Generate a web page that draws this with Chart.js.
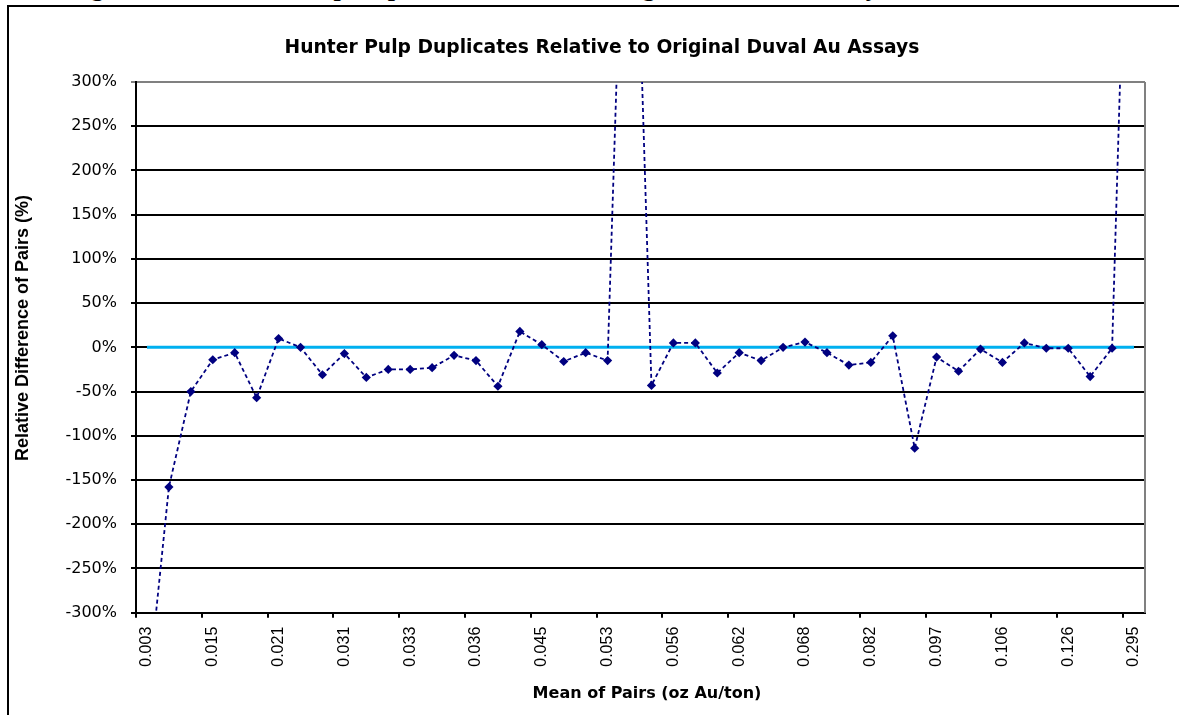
<!DOCTYPE html>
<html>
<head>
<meta charset="utf-8">
<script src="https://cdn.jsdelivr.net/npm/chart.js@4.4.1/dist/chart.umd.min.js"></script>
<style>
  html, body { margin: 0; padding: 0; background: #fff; overflow: hidden; }
  #page { position: relative; width: 1179px; height: 715px; overflow: hidden; }
  #caption {
    position: absolute; left: 68px; top: -25px; white-space: nowrap;
    font: bold 26px "Liberation Serif", "Times New Roman", serif; line-height: 26px; color: #000;
  }
  #frame { position: absolute; left: 7px; top: 5px; width: 1300px; height: 1000px; border: 2px solid #000; background: #fff; }
  #chart { position: absolute; left: 0; top: 0; }
</style>
</head>
<body>
<div id="page">
  <div id="caption">Figure 11-6: Hunter Pulp Duplicates Relative to Original Duval Au Assays</div>
  <div id="frame"></div>
  <canvas id="chart" width="1179" height="715"></canvas>
</div>
<script>
const chartTitle = 'Hunter Pulp Duplicates Relative to Original Duval Au Assays';
const xTitle = 'Mean of Pairs (oz Au/ton)';
const yTitle = 'Relative Difference of Pairs (%)';

// mean of pairs (oz Au/ton); only every third one is printed on the axis
const categories = [
    '0.003', '0.007', '0.012', '0.015', '0.017', '0.019', '0.021', '0.025', '0.028', '0.031',
    '0.032', '0.032', '0.033', '0.034', '0.035', '0.036', '0.040', '0.043', '0.045', '0.048',
    '0.051', '0.053', '0.054', '0.055', '0.056', '0.058', '0.060', '0.062', '0.064', '0.066',
    '0.068', '0.072', '0.077', '0.082', '0.087', '0.092', '0.097', '0.100', '0.103', '0.106',
    '0.112', '0.119', '0.126', '0.150', '0.200', '0.295'
];

// relative difference (%)
const relDiff = [
    -400, -158, -50, -14, -6, -57, 10, 0, -31, -7,
    -34, -25, -25, -23, -9, -15, -44, 18, 3, -16,
    -6, -15, 760, -43, 5, 5, -29, -6, -15, 0,
    6, -6, -20, -17, 13, -114, -11, -27, -2, -17,
    5, -1, -1, -33, -1, 830
];

const zeroLine = categories.map(() => 0);

const yTicks = { min: -300, max: 300, step: 50 };
const labelEvery = 3;

// titles and the grey right edge of the plot area, drawn like the Excel chart
const excelDecor = {
    id: 'excelDecor',
    beforeDatasetsDraw(chart) {
        const a = chart.chartArea;
        const ctx = chart.ctx;
        ctx.save();
        ctx.strokeStyle = '#808080';
        ctx.lineWidth = 2;
        ctx.beginPath();
        ctx.moveTo(a.right, a.top);
        ctx.lineTo(a.right, a.bottom);
        ctx.stroke();
        ctx.restore();
    },
    afterDraw(chart) {
        const ctx = chart.ctx;
        ctx.save();
        ctx.fillStyle = '#000';
        ctx.textAlign = 'center';
        ctx.textBaseline = 'middle';
        ctx.font = 'bold 18.7px "DejaVu Sans"';
        ctx.fillText(chartTitle, 602, 48);
        ctx.font = 'bold 16px "DejaVu Sans"';
        ctx.fillText(xTitle, 647, 694);
        ctx.translate(23, 328);
        ctx.rotate(-Math.PI / 2);
        ctx.font = 'bold 18px "Liberation Sans"';
        ctx.fillText(yTitle, 0, 0);
        ctx.restore();
    }
};

Chart.defaults.font.family = '"DejaVu Sans"';
Chart.defaults.color = '#000';

new Chart(document.getElementById('chart'), {
    type: 'line',
    data: {
        labels: categories,
        datasets: [{
            label: 'Relative difference',
            data: relDiff,
            borderColor: '#000080',
            backgroundColor: '#000080',
            borderWidth: 1.8,
            borderDash: [4, 3],
            pointStyle: 'rectRot',
            pointRadius: 4.6,
            pointBorderWidth: 0,
            tension: 0
        }, {
            label: 'Zero',
            data: zeroLine,
            borderColor: '#00B0F0',
            borderWidth: 3,
            pointRadius: 0,
            tension: 0
        }]
    },
    options: {
        responsive: false,
        devicePixelRatio: 1,
        animation: false,
        layout: { padding: { top: 82, right: 34, left: 0, bottom: 0 } },
        plugins: {
            legend: { display: false },
            tooltip: { enabled: false },
            title: { display: false }
        },
        scales: {
            x: {
                type: 'category',
                offset: true,
                afterFit: s => { s.height = 102.3; },
                grid: {
                    offset: true,
                    drawOnChartArea: false,
                    drawTicks: true,
                    tickLength: 5,
                    lineWidth: 2,
                    color: c => (c.index % labelEvery === 0 ? '#000' : 'rgba(0,0,0,0)')
                },
                border: { display: true, color: '#000', width: 2 },
                ticks: {
                    autoSkip: false,
                    maxRotation: 90,
                    minRotation: 90,
                    padding: 9,
                    font: { family: '"Liberation Sans"', size: 16 },
                    callback: function (v, i) {
                        return i % labelEvery === 0 ? this.getLabelForValue(v) : '';
                    }
                }
            },
            y: {
                min: yTicks.min,
                max: yTicks.max,
                afterFit: s => { s.width = 136; },
                grid: {
                    lineWidth: 2,
                    tickLength: 5,
                    color: c => (c.tick && c.tick.value === yTicks.max ? '#808080' : '#000')
                },
                border: { display: true, color: '#000', width: 2 },
                ticks: {
                    stepSize: yTicks.step,
                    padding: 14,
                    font: { size: 16 },
                    callback: v => v + '%'
                }
            }
        }
    },
    plugins: [excelDecor]
});
</script>
</body>
</html>
